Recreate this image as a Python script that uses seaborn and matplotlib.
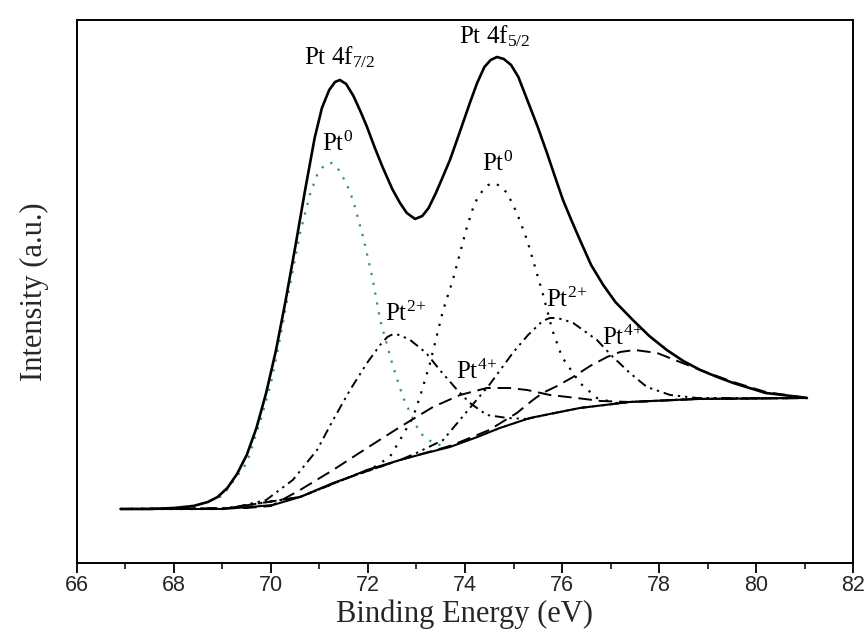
import matplotlib
matplotlib.use("Agg")
import matplotlib.pyplot as plt
import seaborn as sns
from matplotlib.ticker import MultipleLocator

# Pt 4f XPS fit (intensity in arbitrary units)
e_env = [66.9, 67.5, 68.0, 68.4, 68.7, 68.9, 69.1, 69.3, 69.5, 69.7, 69.9, 70.1, 70.3, 70.5,
         70.7, 70.9, 71.05, 71.2, 71.32, 71.42, 71.55, 71.7, 71.85, 71.98, 72.15, 72.3, 72.5,
         72.66, 72.8, 72.97, 73.12, 73.25, 73.4, 73.55, 73.69, 73.9, 74.1, 74.25, 74.4, 74.53,
         74.66, 74.8, 74.95, 75.1, 75.34, 75.5, 75.69, 75.85, 76.02, 76.2, 76.37, 76.6, 76.85,
         77.1, 77.46, 77.8, 78.16, 78.5, 78.85, 79.2, 79.53, 80.2, 80.9, 81.05]
i_env = [54, 54, 55, 57, 61, 66, 75, 89, 108, 135, 170, 212, 262, 316,
         372, 425, 455, 473, 481, 483, 479, 467, 451, 436, 414, 396, 374,
         360, 350, 344, 347, 355, 370, 387, 403, 432, 460, 480, 496, 503,
         506, 504, 498, 486, 456, 436, 410, 387, 363, 342, 323, 298, 278,
         261, 243, 227, 213, 202, 193, 186, 180, 170, 166, 165]

e_bg = [66.9, 69.0, 69.57, 70.04, 70.6, 71.28, 71.63, 71.98, 72.66, 73.2, 73.69, 74.2,
        74.72, 75.34, 75.75, 76.37, 77.4, 78.78, 81.05]
i_bg = [54, 54, 56, 58, 66, 80, 86, 93, 103, 110, 116, 125,
        135, 145, 149, 155, 161, 164, 165]

# Pt0 4f7/2
e_pt0_a = [66.9, 68.0, 68.5, 69.0, 69.5, 69.8, 70.0, 70.2, 70.4, 70.6, 70.8, 70.95, 71.1,
           71.25, 71.4, 71.55, 71.69, 71.9, 72.1, 72.25, 72.52, 72.72, 72.87, 73.07, 73.34,
           73.63, 74.2, 74.72, 75.34, 76.37, 77.4, 78.78, 81.05]
i_pt0_a = [54, 55, 58, 67, 100, 145, 180, 228, 280, 330, 368, 388, 398,
           400, 393, 380, 363, 326, 283, 243, 196, 166, 150, 130, 120,
           116, 125, 135, 145, 155, 161, 164, 165]

# Pt0 4f5/2
e_pt0_b = [66.9, 69.0, 70.6, 71.63, 72.1, 72.45, 72.66, 72.93, 73.07, 73.28, 73.55, 73.75,
           74.04, 74.2, 74.37, 74.48, 74.6, 74.72, 74.87, 75.07, 75.28, 75.48, 75.6, 75.8,
           76.0, 76.37, 76.72, 77.1, 77.4, 78.78, 81.05]
i_pt0_b = [54, 54, 66, 86, 95, 106, 123, 146, 166, 200, 253, 283,
           336, 360, 373, 378, 380, 377, 370, 350, 323, 290, 270, 233,
           206, 180, 165, 160, 161, 164, 165]

# Pt2+ 4f7/2
e_pt2_a = [66.9, 69.2, 69.9, 70.45, 70.95, 71.28, 71.63, 71.98, 72.25, 72.4, 72.52, 72.65,
           72.87, 73.2, 73.48, 73.84, 74.1, 74.45, 74.87, 75.28, 75.75, 76.37, 77.4, 78.78,
           81.05]
i_pt2_a = [54, 55, 63, 83, 113, 143, 173, 200, 218, 226, 229, 228,
           223, 210, 193, 173, 160, 148, 145, 144, 149, 155, 161, 164,
           165]

# Pt2+ 4f5/2
e_pt2_b = [66.9, 69.0, 70.6, 71.63, 72.66, 73.0, 73.55, 74.1, 74.5, 75.0, 75.3, 75.6, 75.75,
           75.9, 76.05, 76.23, 76.72, 77.05, 77.4, 77.75, 78.23, 78.78, 81.05]
i_pt2_b = [54, 54, 66, 86, 103, 110, 123, 155, 178, 211, 228, 242, 245,
           245, 243, 240, 223, 206, 190, 176, 168, 165, 165]

# Pt4+ 4f7/2
e_pt4_a = [66.9, 69.5, 70.0, 70.6, 71.28, 71.98, 72.66, 73.34, 73.9, 74.45, 74.9, 75.28,
           75.75, 76.3, 76.8, 77.4, 78.78, 81.05]
i_pt4_a = [54, 55, 57, 73, 93, 115, 136, 156, 168, 175, 175, 173,
           168, 165, 162, 161, 164, 165]

# Pt4+ 4f5/2
e_pt4_b = [66.9, 69.0, 70.6, 71.63, 72.66, 73.69, 74.2, 74.5, 75.07, 75.4, 75.6, 75.9, 76.23,
           76.58, 76.93, 77.2, 77.5, 77.96, 78.43, 78.85, 79.53, 80.2, 80.9, 81.05]
i_pt4_b = [54, 54, 66, 86, 103, 117, 127, 133, 150, 163, 170, 177, 186,
           197, 206, 211, 213, 210, 201, 193, 181, 171, 166, 165]

sns.set_style("ticks")
plt.rcParams["font.family"] = ["Liberation Serif", "DejaVu Serif"]
plt.rcParams["mathtext.fontset"] = "custom"
plt.rcParams["mathtext.rm"] = "Liberation Serif"
plt.rcParams["mathtext.it"] = "Liberation Serif:italic"

fig = plt.figure(figsize=(8.66, 6.32), dpi=100)
ax = fig.add_axes([0.0889, 0.1092, 0.8961, 0.8592])

dot = (0, (1, 3.5))
dashdotdot = (0, (5, 2.5, 1.2, 2.5, 1.2, 2.5))
dash = (0, (7, 3.5))

sns.lineplot(x=e_pt0_a, y=i_pt0_a, ax=ax, color="#2f8f8f", linestyle=dot, lw=1.6, sort=False, estimator=None)
sns.lineplot(x=e_pt0_b, y=i_pt0_b, ax=ax, color="black", linestyle=dot, lw=1.6, sort=False, estimator=None)
sns.lineplot(x=e_pt2_a, y=i_pt2_a, ax=ax, color="black", linestyle=dashdotdot, lw=1.4, sort=False, estimator=None)
sns.lineplot(x=e_pt2_b, y=i_pt2_b, ax=ax, color="black", linestyle=dashdotdot, lw=1.4, sort=False, estimator=None)
sns.lineplot(x=e_pt4_a, y=i_pt4_a, ax=ax, color="black", linestyle=dash, lw=1.4, sort=False, estimator=None)
sns.lineplot(x=e_pt4_b, y=i_pt4_b, ax=ax, color="black", linestyle=dash, lw=1.4, sort=False, estimator=None)
sns.lineplot(x=e_bg, y=i_bg, ax=ax, color="black", lw=1.5, sort=False, estimator=None)
sns.lineplot(x=e_env, y=i_env, ax=ax, color="black", lw=1.9, sort=False, estimator=None)

labels = [
    (71.42, 506, r"Pt 4f$_{7/2}$"),
    (74.62, 527, r"Pt 4f$_{5/2}$"),
    (71.38, 419, r"Pt$^{0}$"),
    (74.68, 399, r"Pt$^{0}$"),
    (72.78, 249, r"Pt$^{2\!+}$"),
    (76.10, 263, r"Pt$^{2\!+}$"),
    (74.23, 191, r"Pt$^{4\!+}$"),
    (77.24, 225, r"Pt$^{4\!+}$"),
]
for x, y, s in labels:
    ax.text(x, y, s, fontsize=18, ha="center", va="center", color="black")

ax.set_xlim(66, 82)
ax.set_ylim(0, 543)
ax.xaxis.set_major_locator(MultipleLocator(2))
ax.xaxis.set_minor_locator(MultipleLocator(1))
ax.set_yticks([])
ax.tick_params(axis="x", which="major", direction="out", length=7, width=1.3, color="black",
               top=False, labelsize=15.5, pad=2)
ax.tick_params(axis="x", which="minor", direction="out", length=4.5, width=1.1, color="black", top=False)
for lab in ax.get_xticklabels():
    lab.set_family(["Liberation Sans Narrow", "Liberation Sans"])
for sp in ax.spines.values():
    sp.set_visible(True)
    sp.set_linewidth(1.4)
    sp.set_color("black")

ax.set_xlabel("Binding Energy (eV)", fontsize=22, labelpad=2)
ax.set_ylabel("Intensity (a.u.)", fontsize=22, labelpad=20)

fig.savefig("out.png", dpi=100)
